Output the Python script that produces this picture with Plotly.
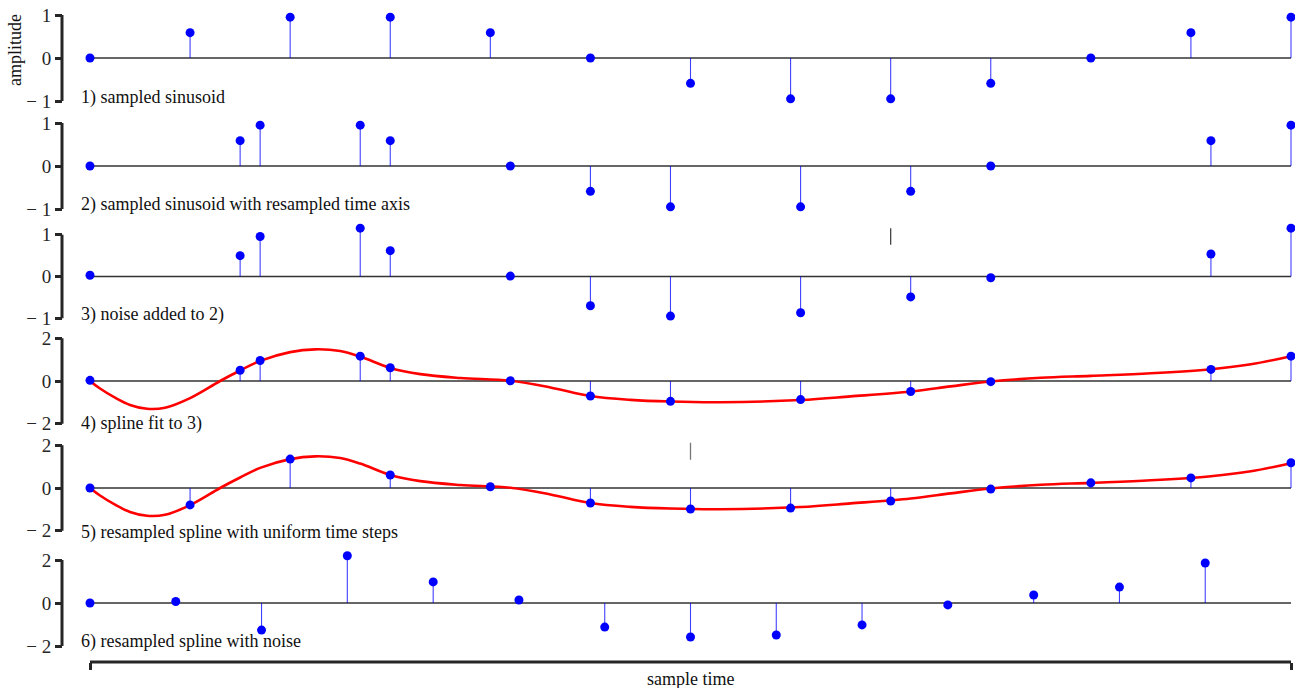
import plotly.graph_objects as go

# ---------------- data ----------------
t_uniform = [0, 1, 2, 3, 4, 5, 6, 7, 8, 9, 10, 11, 12]
sinusoid = [0.0, 0.59, 0.95, 0.95, 0.59, 0.0, -0.59, -0.95, -0.95, -0.59, 0.0, 0.59, 0.95]

t_resampled = [0.0, 1.5, 1.7, 2.7, 3.0, 4.2, 5.0, 5.8, 7.1, 8.2, 9.0, 11.2, 12.0]
sinusoid_resampled = [0.0, 0.59, 0.95, 0.95, 0.59, 0.0, -0.59, -0.95, -0.95, -0.59, 0.0, 0.59, 0.95]
noisy = [0.03, 0.50, 0.96, 1.16, 0.62, 0.01, -0.70, -0.95, -0.87, -0.49, -0.03, 0.54, 1.16]

spline_t = [0.0, 0.1, 0.25, 0.4, 0.57, 0.75, 1.0, 1.3, 1.5, 1.7, 2.0, 2.25, 2.5, 2.7,
            3.0, 3.3, 3.7, 4.2, 4.6, 5.0, 5.4, 5.8, 6.3, 7.1, 7.6, 8.2, 8.6, 9.0,
            9.5, 10.0, 10.6, 11.2, 11.6, 12.0]
spline_v = [0.0, -0.35, -0.78, -1.12, -1.30, -1.25, -0.80, 0.0, 0.49, 0.94, 1.35, 1.48,
            1.40, 1.14, 0.61, 0.32, 0.14, 0.01, -0.30, -0.70, -0.88, -0.96, -0.99, -0.89,
            -0.72, -0.49, -0.25, -0.02, 0.15, 0.24, 0.36, 0.55, 0.78, 1.16]

resampled_spline = [0.0, -0.79, 1.35, 0.61, 0.06, -0.70, -0.98, -0.94, -0.61, -0.05, 0.24, 0.47, 1.18]

t_noise = [0.0, 0.857, 1.714, 2.571, 3.429, 4.286, 5.143, 6.0, 6.857, 7.714, 8.571,
           9.429, 10.286, 11.143]
resampled_noisy = [0.0, 0.07, -1.26, 2.2, 0.98, 0.14, -1.12, -1.58, -1.49, -1.02, -0.09,
                   0.37, 0.74, 1.86]

# small stray segments visible in the original
stray3_t = [8.0, 8.0]
stray3_v = [1.16, 0.76]
stray5_t = [6.0, 6.0]
stray5_v = [2.12, 1.32]

titles = ["1) sampled sinusoid",
          "2) sampled sinusoid with resampled time axis",
          "3) noise added to 2)",
          "4) spline fit to 3)",
          "5) resampled spline with uniform time steps",
          "6) resampled spline with noise"]

ticks_small = [-1, 0, 1]
ticks_large = [-2, 0, 2]
x_ends = [0, 12]

# ---------------- layout geometry (page pixels) ----------------
W, H = 1295, 688
ML, MR, MT, MB = 62, 0, 0, 20
PW = W - ML - MR
PH = H - MT - MB
X0_PX, X12_PX = 90, 1291
PX_PER_UNIT = (X12_PX - X0_PX) / 12.0
X_MAX = 12 + (W - MR - X12_PX) / PX_PER_UNIT


def py2paper(py):
    return (PH - (py - MT)) / PH


def px2paper(px):
    return (px - ML) / PW


# (zero pixel, px per unit, half range)
panels = [(58, 43.0, 1.15), (166, 43.0, 1.2), (276.5, 41.7, 1.25),
          (381, 21.4, 2.35), (488, 21.4, 2.35), (603, 21.5, 2.4)]
label_py = [97, 205, 314, 423, 532, 641]

BLUE = "#0000ff"
RED = "#ff0000"
DARK = "#262626"
FONT = "Liberation Serif"
TXT = 18

fig = go.Figure()

stem_data = [
    (t_uniform, sinusoid),
    (t_resampled, sinusoid_resampled),
    (t_resampled, noisy),
    (t_resampled, noisy),
    (t_uniform, resampled_spline),
    (t_noise, resampled_noisy),
]


def yname(i):
    return "y" if i == 0 else f"y{i+1}"


shapes = []
annotations = []
for i, (xs, vs) in enumerate(stem_data):
    ya = yname(i)
    sx, sy = [], []
    for x, v in zip(xs, vs):
        sx += [x, x, None]
        sy += [0, v, None]
    if i in (3, 4):
        fig.add_trace(go.Scatter(x=spline_t, y=spline_v, mode="lines", yaxis=ya,
                                 line=dict(color=RED, width=2.6, shape="spline"),
                                 hoverinfo="skip", showlegend=False))
    fig.add_trace(go.Scatter(x=sx, y=sy, mode="lines", yaxis=ya,
                             line=dict(color="rgba(0,0,255,0.75)", width=1.1),
                             hoverinfo="skip", showlegend=False))
    fig.add_trace(go.Scatter(x=xs, y=vs, mode="markers", yaxis=ya, cliponaxis=False,
                             marker=dict(color=BLUE, size=9, line=dict(width=0)),
                             showlegend=False))
    shapes.append(dict(type="line", xref="x", yref=ya, x0=x_ends[0], x1=x_ends[1],
                       y0=0, y1=0, line=dict(color="#333333", width=1.4), layer="below"))
    lim = 1 if i < 3 else 2
    shapes.append(dict(type="line", xref="paper", yref=ya, x0=0, x1=0, y0=-lim, y1=lim,
                       line=dict(color=DARK, width=3)))
    annotations.append(dict(text=titles[i], xref="paper", yref="paper",
                            x=px2paper(79), y=py2paper(label_py[i]),
                            xanchor="left", yanchor="middle", showarrow=False,
                            font=dict(family=FONT, size=TXT, color="#111111")))

fig.add_trace(go.Scatter(x=stray3_t, y=stray3_v, mode="lines", yaxis="y3",
                         line=dict(color="#444444", width=1.3), hoverinfo="skip",
                         showlegend=False))
fig.add_trace(go.Scatter(x=stray5_t, y=stray5_v, mode="lines", yaxis="y5",
                         line=dict(color="#777777", width=1.3), hoverinfo="skip",
                         showlegend=False))

# bottom (trimmed) x spine from 0 to 12
shapes.append(dict(type="line", xref="x", yref="paper", x0=x_ends[0], x1=x_ends[1],
                   y0=py2paper(662), y1=py2paper(662), line=dict(color=DARK, width=3)))

layout = dict(
    template="none",
    width=W, height=H,
    margin=dict(l=ML, r=MR, t=MT, b=MB, autoexpand=False),
    plot_bgcolor="white", paper_bgcolor="white",
    showlegend=False,
    shapes=shapes,
    xaxis=dict(domain=[px2paper(X0_PX), 1], range=[0, X_MAX], anchor="free",
               position=py2paper(662), showgrid=False, zeroline=False, automargin=False,
               showline=False,
               tickmode="array", tickvals=x_ends, ticks="outside", ticklen=7,
               tickwidth=3, tickcolor=DARK, showticklabels=False),
)

for i, (c, s, R) in enumerate(panels):
    top = c - s * R
    bot = c + s * R
    tv = ticks_small if i < 3 else ticks_large
    key = "yaxis" if i == 0 else f"yaxis{i+1}"
    layout[key] = dict(domain=[py2paper(bot), py2paper(top)], range=[-R, R],
                       anchor="free", position=0, side="left", automargin=False,
                       showgrid=False, zeroline=False, showline=False,
                       tickmode="array", tickvals=tv,
                       ticktext=[("\u2212 " + str(-v)) if v < 0 else str(v) for v in tv],
                       ticks="outside", ticklen=7, tickwidth=3, tickcolor=DARK,
                       ticklabeloverflow="allow",
                       tickfont=dict(family=FONT, size=19, color=DARK))

annotations.append(dict(text="amplitude", xref="paper", yref="paper",
                        x=px2paper(15), y=py2paper(50), textangle=-90,
                        xanchor="center", yanchor="middle", showarrow=False,
                        font=dict(family=FONT, size=TXT, color="#111111")))
annotations.append(dict(text="sample time", xref="paper", yref="paper",
                        x=px2paper(690), y=py2paper(679),
                        xanchor="center", yanchor="middle", showarrow=False,
                        font=dict(family=FONT, size=TXT, color="#111111")))
layout["annotations"] = annotations

fig.update_layout(**layout)
fig.write_html(
    "out.html",
    config={"displayModeBar": False},
    post_script="document.body.style.margin='0';document.documentElement.style.overflow='hidden';",
)
